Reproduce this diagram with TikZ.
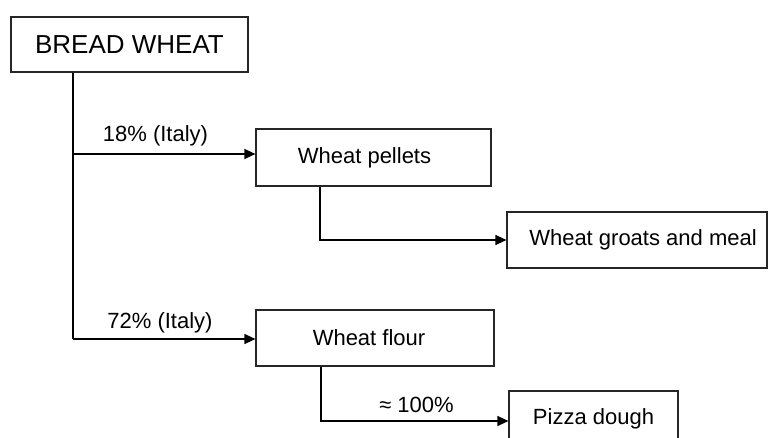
\documentclass[tikz,border=0pt]{standalone}
\usepackage{fontspec}
\setmainfont{Liberation Sans}
\usetikzlibrary{arrows.meta}
\tikzset{
  box/.style={draw=black!85, line width=1.2pt, rectangle, inner sep=0pt, minimum height=56pt,
    font=\fontsize{22}{26}\selectfont},
  titlebox/.style={box, font=\fontsize{26}{30}\selectfont},
  conn/.style={draw=black, line width=1.5pt},
  arr/.style={conn, -{Triangle[length=11pt,width=10pt]}},
  lbl/.style={anchor=base, inner sep=0pt, font=\fontsize{22}{26}\selectfont}
}
\begin{document}
\begin{tikzpicture}[x=1pt,y=-1pt]
\useasboundingbox (0,0) rectangle (768,438);
\clip (0,0) rectangle (768,438);
\node[titlebox, minimum width=237pt, minimum height=55pt] (bw) at (129.5,44.5) {BREAD WHEAT};
\node[box, minimum width=235pt, minimum height=57pt] (pel) at (373.5,157.5) {Wheat pellets\hspace*{18pt}};
\node[box, minimum width=260pt] (groats) at (637,240) {\hspace*{12pt}Wheat groats and meal};
\node[box, minimum width=238pt] (flour) at (375,338) {Wheat flour\hspace*{12pt}};
\node[box, minimum width=169pt] (pizza) at (593.5,419) {Pizza dough};

\coordinate (t1) at (73,154);
\coordinate (t2) at (73,339);
\coordinate (c1) at (320,240);
\coordinate (c2) at (321,421);

\draw[conn] (bw.south -| t1) -- (t2);
\draw[arr] (t1) -- (t1 -| pel.west);
\draw[arr] (t2) -- (t2 -| flour.west);
\draw[arr] (pel.south -| c1) |- (groats.west);
\draw[arr] (flour.south -| c2) |- (c2 -| pizza.west);

\node[lbl] (l1) at (155.5,142) {18\% (Italy)};
\node[lbl] (l2) at (160,328) {72\% (Italy)};
\node[lbl] (l3) at (416.5,412) {≈ 100\%};
\end{tikzpicture}
\end{document}
